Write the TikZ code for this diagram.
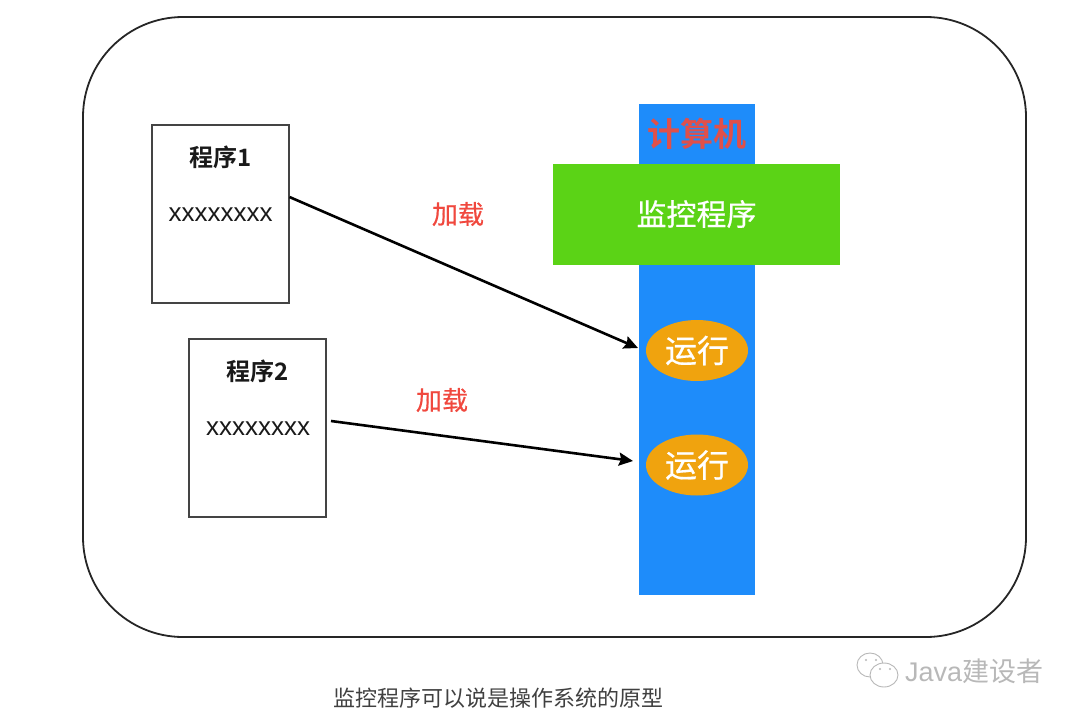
\documentclass[tikz,border=0pt]{standalone}
\usepackage{fontspec}
\setmainfont{Liberation Sans}
\newfontfamily\cjk{Noto Sans CJK SC}
\newfontfamily\cjkm[FakeBold=0.5]{Noto Sans CJK SC}
\newfontfamily\cjkb{Noto Sans CJK SC Bold}
\usetikzlibrary{shapes.geometric,arrows.meta}
\definecolor{barblue}{HTML}{1E8CFA}
\definecolor{mongreen}{HTML}{5BD316}
\definecolor{runorange}{HTML}{F0A30E}
\definecolor{labelred}{HTML}{F0483E}
\definecolor{titlered}{HTML}{E0504A}
\definecolor{boxline}{HTML}{444444}
\definecolor{wm}{HTML}{B8B8B8}
\tikzset{
  px/.style={x=1pt,y=-1pt},
  progbox/.style={draw=boxline,line width=1.5pt,minimum width=137pt,minimum height=178pt,inner sep=0pt},
  runnode/.style={ellipse,fill=runorange,minimum width=102pt,minimum height=61pt,inner sep=0pt,text=white,font=\cjkm\fontsize{32}{32}\selectfont},
  loadlabel/.style={text=labelred,font=\cjkm\fontsize{26}{26}\selectfont,inner sep=0pt},
  progtitle/.style={inner sep=0pt,font=\cjkb\fontsize{24}{24}\selectfont,text=black!90},
  progtext/.style={inner sep=0pt,font=\fontsize{26}{26}\selectfont,text=black!90},
  loadarrow/.style={-{Stealth[length=14pt,width=13pt,inset=2pt]},line width=2.6pt,black},
  wmline/.style={draw=wm,line width=0.9pt,fill=white}
}
\begin{document}
\begin{tikzpicture}[px]
\useasboundingbox (0,0) rectangle (1080,718);
\draw[line width=1.8pt,black!85,rounded corners=100pt] (83,17) rectangle (1026,637);
\node[fill=barblue,minimum width=116pt,minimum height=491pt,inner sep=0pt] (bar) at (697,349.5) {};
\node[fill=mongreen,minimum width=287pt,minimum height=101pt,inner sep=0pt,text=white,font=\cjkm\fontsize{30}{30}\selectfont] (mon) at (696.5,214) {监控程序};
\node[inner sep=0pt,text=titlered,font=\cjkb\fontsize{33}{33}\selectfont] (comp) at (697,134) {计算机};
\node[runnode] (run1) at (697,350.5) {运行};
\node[runnode] (run2) at (697,465) {运行};
\node[progbox] (p1) at (220.5,214) {};
\node[progbox] (p2) at (257.5,428) {};
\node[progtitle] (p1t) at (220.5,157) {程序1};
\node[progtext] (p1x) at (220.5,215) {xxxxxxxx};
\node[progtitle] (p2t) at (258,371) {程序2};
\node[progtext] (p2x) at (258,429) {xxxxxxxx};
\node[loadlabel] (l1) at (458,214) {加载};
\node[loadlabel] (l2) at (442,400) {加载};
\coordinate (a1s) at (289.5,197);
\coordinate (a1e) at (638,348);
\coordinate (a2s) at (331,421);
\coordinate (a2e) at (633,461);
\draw[loadarrow] (a1s) -- (a1e);
\draw[loadarrow] (a2s) -- (a2e);
\node[inner sep=0pt,text=black!75,font=\cjk\fontsize{22}{22}\selectfont] (cap) at (498,698) {监控程序可以说是操作系统的原型};
% watermark
\node[inner sep=0pt,text=wm,font=\fontsize{27}{27}\selectfont,anchor=west] (wmtext) at (905,671) {Java\cjk 建设者};
\draw[wmline] (870,665) ellipse (13 and 12);
\draw[wmline] (884,675) ellipse (14 and 12);
\fill[wm] (866,660) circle (1.2) (876,660) circle (1.2) (880,669) circle (1.2) (890,669) circle (1.2);
\end{tikzpicture}
\end{document}
